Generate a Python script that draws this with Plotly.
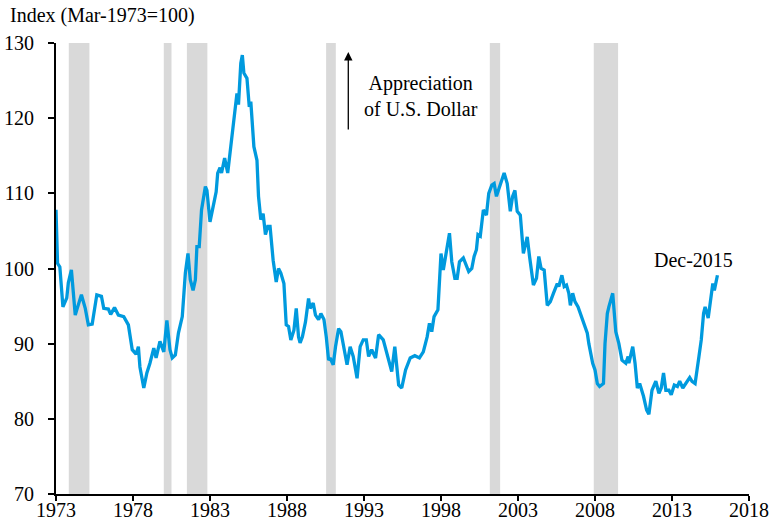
import plotly.graph_objects as go

# trade-weighted dollar index (decimal years)
years = [
    1973.0, 1973.1, 1973.25, 1973.45, 1973.7, 1973.8, 1974.0, 1974.25, 1974.35, 1974.65,
    1974.9, 1975.1, 1975.35, 1975.65, 1975.95, 1976.1, 1976.4, 1976.55, 1976.8, 1977.05,
    1977.4, 1977.7, 1977.95, 1978.2, 1978.35, 1978.45, 1978.7, 1978.9, 1979.1, 1979.35,
    1979.5, 1979.75, 1980.0, 1980.2, 1980.4, 1980.55, 1980.75, 1980.95, 1981.2, 1981.4,
    1981.57, 1981.72, 1981.9, 1982.05, 1982.15, 1982.3, 1982.45, 1982.7, 1982.8, 1983.0,
    1983.25, 1983.4, 1983.5, 1983.65, 1983.75, 1983.95, 1984.15, 1984.3, 1984.5, 1984.65,
    1984.75, 1984.85, 1985.0, 1985.1, 1985.2, 1985.4, 1985.55, 1985.65, 1985.85, 1986.05,
    1986.15, 1986.3, 1986.45, 1986.6, 1986.75, 1986.9, 1987.1, 1987.3, 1987.45, 1987.6,
    1987.8, 1987.95, 1988.1, 1988.25, 1988.45, 1988.6, 1988.75, 1988.85, 1989.0, 1989.2,
    1989.4, 1989.5, 1989.7, 1989.85, 1990.05, 1990.2, 1990.4, 1990.55, 1990.7, 1990.8,
    1991.0, 1991.15, 1991.35, 1991.5, 1991.7, 1991.9, 1992.1, 1992.3, 1992.55, 1992.75,
    1992.95, 1993.15, 1993.3, 1993.5, 1993.75, 1993.95, 1994.25, 1994.5, 1994.8, 1995.0,
    1995.25, 1995.45, 1995.7, 1996.0, 1996.3, 1996.6, 1996.85, 1997.1, 1997.25, 1997.4,
    1997.55, 1997.8, 1998.0, 1998.15, 1998.4, 1998.55, 1998.7, 1998.9, 1999.05, 1999.2,
    1999.45, 1999.8, 2000.0, 2000.15, 2000.3, 2000.4, 2000.55, 2000.75, 2000.95, 2001.1,
    2001.3, 2001.45, 2001.6, 2001.8, 2001.95, 2002.1, 2002.3, 2002.5, 2002.65, 2002.8,
    2002.95, 2003.15, 2003.35, 2003.6, 2003.75, 2004.0, 2004.2, 2004.35, 2004.5, 2004.7,
    2004.9, 2005.1, 2005.3, 2005.55, 2005.65, 2005.85, 2006.0, 2006.15, 2006.3, 2006.4,
    2006.55, 2006.7, 2006.9, 2007.05, 2007.3, 2007.5, 2007.6, 2007.85, 2008.0, 2008.15,
    2008.3, 2008.55, 2008.65, 2008.8, 2008.9, 2009.1, 2009.15, 2009.35, 2009.55, 2009.75,
    2010.0, 2010.15, 2010.2, 2010.45, 2010.6, 2010.75, 2010.9, 2011.15, 2011.35, 2011.5,
    2011.7, 2011.95, 2012.15, 2012.3, 2012.45, 2012.6, 2012.8, 2012.95, 2013.15, 2013.35,
    2013.5, 2013.7, 2013.95, 2014.15, 2014.3, 2014.5, 2014.75, 2014.9, 2015.05, 2015.15,
    2015.35, 2015.55, 2015.65, 2015.75, 2015.95,
]
index = [
    107.8, 100.7, 100.2, 94.9, 96.1, 98.1, 99.8, 93.8, 94.5, 96.5,
    94.7, 92.5, 92.6, 96.5, 96.3, 94.7, 94.6, 93.9, 94.8, 93.8,
    93.6, 92.5, 89.2, 88.6, 89.6, 86.9, 84.1, 86.1, 87.4, 89.4,
    88.1, 90.3, 88.9, 93.1, 89.2, 88.1, 88.5, 91.4, 93.6, 99.4,
    102.0, 98.5, 97.1, 98.5, 102.9, 102.9, 107.8, 110.9, 110.4, 106.2,
    108.7, 110.2, 112.7, 113.4, 112.7, 114.7, 112.7, 115.4, 119.4, 121.8,
    123.3, 121.8, 127.3, 128.4, 126.0, 125.3, 121.5, 122.2, 116.2, 114.4,
    109.6, 106.5, 107.3, 104.5, 105.6, 105.6, 101.1, 98.2, 100.0, 99.4,
    98.0, 92.5, 92.3, 90.5, 91.8, 94.7, 90.9, 90.1, 90.9, 92.9,
    96.0, 94.7, 95.4, 93.8, 93.2, 94.0, 93.2, 90.9, 87.8, 88.1,
    87.2, 89.6, 92.0, 91.6, 89.2, 87.2, 89.6, 88.3, 85.4, 89.6,
    90.5, 90.5, 88.3, 89.2, 88.1, 91.2, 90.5, 88.7, 86.3, 89.6,
    84.5, 84.1, 86.5, 88.1, 88.4, 88.1, 88.9, 90.9, 92.7, 91.6,
    93.6, 94.5, 102.0, 99.8, 102.5, 104.7, 100.9, 98.7, 98.7, 100.9,
    101.4, 99.6, 100.0, 101.6, 102.5, 104.5, 104.3, 107.8, 107.1, 110.0,
    111.1, 111.3, 109.6, 110.9, 111.8, 112.7, 111.3, 107.6, 109.6, 110.4,
    107.6, 107.1, 102.0, 104.2, 101.6, 97.8, 98.7, 101.6, 100.0, 99.8,
    95.1, 95.6, 96.7, 98.0, 97.6, 99.1, 97.6, 97.8, 96.7, 95.1,
    96.7, 95.6, 94.9, 94.0, 92.5, 91.4, 90.0, 87.4, 86.5, 84.7,
    84.3, 84.7, 90.0, 94.0, 94.9, 96.5, 96.7, 91.6, 90.0, 87.8,
    87.4, 88.3, 87.4, 89.6, 87.4, 84.1, 84.7, 83.0, 81.2, 80.6,
    83.8, 85.0, 83.4, 84.1, 86.1, 83.8, 83.8, 83.2, 84.5, 84.3,
    85.0, 84.1, 85.0, 85.5, 85.0, 84.7, 88.3, 90.5, 94.0, 94.9,
    93.4, 97.1, 98.0, 97.1, 99.1,
]

# NBER recessions
rec_start = [1973.83, 1980.0, 1981.5, 1990.54, 2001.17, 2007.92]
rec_end = [1975.17, 1980.5, 1982.83, 1991.17, 2001.84, 2009.5]

serif = "Liberation Serif, Times New Roman, serif"

fig = go.Figure()

for s, e in zip(rec_start, rec_end):
    fig.add_vrect(x0=s, x1=e, fillcolor="#d9d9d9", opacity=1, line_width=0, layer="below")

fig.add_trace(go.Scatter(
    x=years, y=index, mode="lines",
    line=dict(color="#009ade", width=3.3),
    hoverinfo="x+y", showlegend=False,
))

# y-axis title sits above the plot
fig.add_annotation(text="Index (Mar-1973=100)", xref="paper", yref="paper",
                   x=-0.069, y=1.03, xanchor="left", yanchor="bottom",
                   showarrow=False, font=dict(size=20))

# appreciation arrow
fig.add_annotation(x=1991.98, y=128.8, ax=1991.98, ay=118.3, xref="x", yref="y",
                   axref="x", ayref="y", text="", showarrow=True,
                   arrowhead=2, arrowsize=1.3, arrowwidth=1.3, arrowcolor="black")
fig.add_annotation(text="Appreciation<br>of U.S. Dollar", x=1996.7, y=123.0,
                   xref="x", yref="y", showarrow=False, align="center",
                   font=dict(size=20))
fig.add_annotation(text="Dec-2015", x=2014.4, y=101.1, xref="x", yref="y",
                   showarrow=False, font=dict(size=20))

fig.update_xaxes(range=[1973, 2018], tickvals=list(range(1973, 2019, 5)),
                 showgrid=False, zeroline=False, showline=True, linecolor="black",
                 linewidth=2, ticks="outside", ticklen=5, tickwidth=2, tickcolor="black",
                 ticklabelstandoff=-8, automargin=False)
fig.update_yaxes(range=[70, 130], tickvals=list(range(70, 131, 10)),
                 showgrid=False, zeroline=False, showline=True, linecolor="black",
                 linewidth=2, ticks="outside", ticklen=6, tickwidth=2, tickcolor="black",
                 ticklabelstandoff=10, automargin=False)

fig.update_layout(
    width=774, height=523,
    margin=dict(l=56, r=25, t=43, b=29),
    plot_bgcolor="white", paper_bgcolor="white",
    font=dict(family=serif, size=20, color="black"),
)

# drop the default page margin so the figure sits at the window's corner
fig.write_html("out.html", config={"displayModeBar": False},
               post_script="document.body.style.margin='0';document.body.style.overflow='hidden';")
